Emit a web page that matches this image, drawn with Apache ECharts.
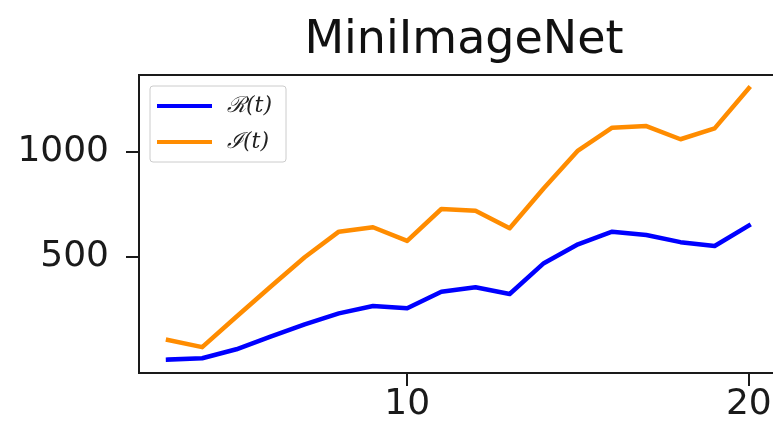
<!DOCTYPE html>
<html>
<head>
<meta charset="utf-8">
<script src="https://cdn.jsdelivr.net/npm/echarts@6/dist/echarts.min.js"></script>
<style>
  html, body { margin: 0; padding: 0; background: #fff; }
  #chart { width: 773px; height: 435px; }
</style>
</head>
<body>
<div id="chart"></div>
<script>
// Task index t and the two tracked quantities per task
const steps = [3, 4, 5, 6, 7, 8, 9, 10, 11, 12, 13, 14, 15, 16, 17, 18, 19, 20];
const rValues = [10, 16, 59, 119, 178, 230, 265, 254, 333, 354, 322, 469, 559, 619, 603, 569, 551, 648];
const iValues = [103, 69, 214, 357, 497, 619, 640, 575, 727, 719, 635, 826, 1005, 1114, 1122, 1059, 1111, 1302];
const xTicks = [10, 20];
const yTicks = [500, 1000];
const seriesNames = ['ℛ(t)', 'ℐ(t)'];

const pairs = (ys) => steps.map((x, i) => [x, ys[i]]);
const axisColor = '#1a1a1a';
const plain = (v) => String(v);
// the x range keeps 34.17 px per step; the frame runs past the right edge of the view
const xMin = 2.15, xMax = 22.64;

const chart = echarts.init(document.getElementById('chart'), null, { renderer: 'canvas' });
chart.setOption({
  animation: false,
  backgroundColor: '#fff',
  title: {
    text: 'MiniImageNet',
    left: 459, top: 13, textAlign: 'center',
    textStyle: { fontFamily: 'DejaVu Sans', fontSize: 46, fontWeight: 'normal', color: '#111' }
  },
  grid: {
    left: 139, top: 75, width: 700, height: 298,
    outerBoundsMode: 'none', containLabel: false,
    show: true, borderColor: axisColor, borderWidth: 2, backgroundColor: 'transparent'
  },
  legend: {
    left: 150, top: 86,
    orient: 'vertical',
    icon: 'rect', itemWidth: 55, itemHeight: 4, itemGap: 14,
    padding: [9, 14, 9, 7],
    borderColor: '#cccccc', borderWidth: 1, borderRadius: 3,
    backgroundColor: 'rgba(255,255,255,0.8)',
    textStyle: { fontFamily: 'DejaVu Serif', fontStyle: 'italic', fontSize: 22, color: '#222', padding: [0, 0, 0, 10] },
    data: seriesNames
  },
  xAxis: {
    type: 'value', min: xMin, max: xMax,
    axisLine: { show: true, onZero: false, lineStyle: { color: axisColor, width: 2 } },
    axisTick: { show: true, length: 13, inside: false, lineStyle: { color: axisColor, width: 2 }, customValues: xTicks },
    axisLabel: { customValues: xTicks, formatter: plain, margin: 14, fontFamily: 'DejaVu Sans', fontSize: 36, color: axisColor },
    splitLine: { show: false }
  },
  yAxis: {
    type: 'value', min: -54, max: 1365,
    axisLine: { show: true, onZero: false, lineStyle: { color: axisColor, width: 2 } },
    axisTick: { show: true, length: 13, inside: false, lineStyle: { color: axisColor, width: 2 }, customValues: yTicks },
    axisLabel: { customValues: yTicks, formatter: plain, margin: 30, fontFamily: 'DejaVu Sans', fontSize: 36, color: axisColor },
    splitLine: { show: false }
  },
  series: [
    {
      name: seriesNames[0], type: 'line', data: pairs(rValues),
      showSymbol: false, symbol: 'none',
      lineStyle: { color: '#0000ff', width: 4.5, join: 'round', cap: 'square' },
      itemStyle: { color: '#0000ff' }
    },
    {
      name: seriesNames[1], type: 'line', data: pairs(iValues),
      showSymbol: false, symbol: 'none',
      lineStyle: { color: '#ff8c00', width: 4.5, join: 'round', cap: 'square' },
      itemStyle: { color: '#ff8c00' }
    }
  ]
});
</script>
</body>
</html>
